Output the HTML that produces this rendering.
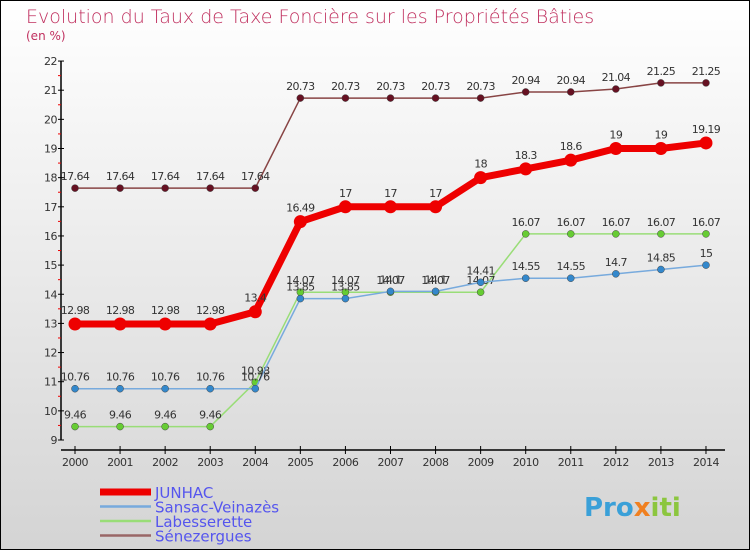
<!DOCTYPE html>
<html><head><meta charset="utf-8"><style>
body{margin:0}
svg{display:block;font-family:"DejaVu Sans","Liberation Sans",sans-serif}
</style></head><body>
<svg id="chart" width="750" height="550" xmlns="http://www.w3.org/2000/svg">
<defs><linearGradient id="bg" x1="0" y1="0" x2="0" y2="1"><stop offset="0" stop-color="#ffffff"/><stop offset="1" stop-color="#d4d4d4"/></linearGradient></defs>
<rect x="0.5" y="0.5" width="749" height="549" fill="url(#bg)" stroke="#000"/>
<text x="26" y="23" font-size="19" fill="#c0305f" font-family="DejaVu Sans" font-weight="200">Evolution du Taux de Taxe Foncière sur les Propriétés Bâties</text>
<text x="26" y="40" font-size="12" fill="#c0305f">(en %)</text>
<g id="axes"></g>
<g id="series"></g>
<g id="legend"></g>
<text x="584" y="516" font-size="26" font-weight="bold" fill="#3aa0d8">Pro<tspan fill="#f08020">x</tspan><tspan fill="#8cc63f">iti</tspan></text>
</svg>
<script>
const years = [2000,2001,2002,2003,2004,2005,2006,2007,2008,2009,2010,2011,2012,2013,2014];
const yTicks = [9,10,11,12,13,14,15,16,17,18,19,20,21,22];
const junhac = [12.98,12.98,12.98,12.98,13.4,16.49,17,17,17,18,18.3,18.6,19,19,19.19];
const sansac = [10.76,10.76,10.76,10.76,10.76,13.85,13.85,14.1,14.1,14.41,14.55,14.55,14.7,14.85,15];
const labesserette = [9.46,9.46,9.46,9.46,10.98,14.07,14.07,14.07,14.07,14.07,16.07,16.07,16.07,16.07,16.07];
const senezergues = [17.64,17.64,17.64,17.64,17.64,20.73,20.73,20.73,20.73,20.73,20.94,20.94,21.04,21.25,21.25];
const seriesNames = ["JUNHAC","Sansac-Veinazès","Labesserette","Sénezergues"];
const NS="http://www.w3.org/2000/svg";
const X=i=>75+i*45.07;
const Y=v=>440-(v-9)*29.15;
function mk(tag,attrs,parent,txt){const e=document.createElementNS(NS,tag);for(const k in attrs)e.setAttribute(k,attrs[k]);if(txt!==undefined)e.textContent=txt;parent.appendChild(e);return e;}
const ax=document.getElementById('axes');
let e=mk('line',{x1:61,y1:Y(22),x2:61,y2:Y(9),stroke:'#000','stroke-width':1.5},ax);


yTicks.forEach(t=>{
 let l=mk('line',{x1:58,y1:Y(t),x2:64,y2:Y(t),stroke:'#000'},ax);
 
 
 if(t<22){let m=mk('line',{x1:58,y1:Y(t+0.5),x2:61,y2:Y(t+0.5),stroke:'#e00'},ax);
 
 }
 let tx=mk('text',{x:57,y:Y(t)+4,'font-size':11,fill:'#333','text-anchor':'end','letter-spacing':'-0.5'},ax,String(t));
 
 
});
e=mk('line',{x1:61,y1:450,x2:725,y2:450,stroke:'#000','stroke-width':1.5},ax);


years.forEach((y,i)=>{
 let l=mk('line',{x1:X(i),y1:446,x2:X(i),y2:454,stroke:'#000'},ax);
 
 
 let tx=mk('text',{x:X(i),y:466,'font-size':11,fill:'#333','text-anchor':'middle','letter-spacing':'-0.5'},ax,String(y));
 
 
});
const sg=document.getElementById('series');
const defs=[[labesserette,'#99dd77','#66cc33',1.5,3.5,'labesserette'],[sansac,'#77aadd','#3388cc',1.5,3.5,'sansac-veinazes'],[senezergues,'#884444','#661122',1.5,3.5,'senezergues'],[junhac,'#ee0000','#ee0000',7,6.5,'junhac']];
defs.forEach(([d,lc,pc,w,r,n])=>{
 const g=mk('g',{},sg);
 
 
 let p=mk('polyline',{points:d.map((v,i)=>X(i)+','+Y(v)).join(' '),fill:'none',stroke:lc,'stroke-width':w},g);
 
 
 d.forEach((v,i)=>{
  let c=mk('circle',{cx:X(i),cy:Y(v),r:r,fill:pc,stroke:n==='junhac'?'none':'#444','stroke-width':0.5},g);
  
  
  let t=mk('text',{x:X(i),y:Y(v)-(n==='junhac'?10:8),'font-size':11,fill:'#333','text-anchor':'middle','letter-spacing':'-0.6'},g,String(v));
  
  
 });
});
const lg=document.getElementById('legend');
const lcols=['#ee0000','#77aadd','#99dd77','#996666'];
const lw=[7,2.5,2.5,2.5];
seriesNames.forEach((s,i)=>{
 const yy=492+i*14.5;
 let l=mk('line',{x1:100,y1:yy,x2:151,y2:yy,stroke:lcols[i],'stroke-width':lw[i]},lg);
 
 
 let t=mk('text',{x:155,y:yy+6,'font-size':15,fill:'#5555ee'},lg,s);
 
 
});
</script>
</body></html>
